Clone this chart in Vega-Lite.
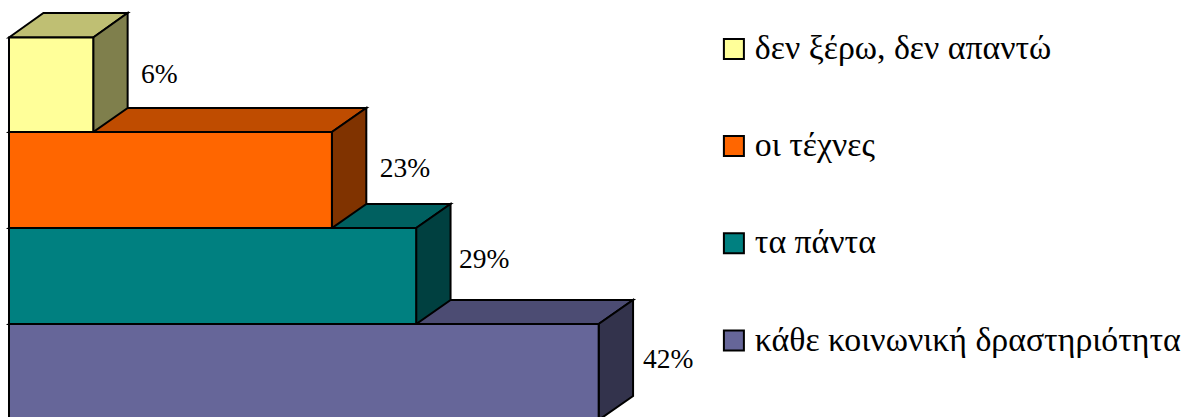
{
"$schema":"https://vega.github.io/schema/vega-lite/v6.json",
"width":1191,"height":417,"padding":0,"autosize":{"type":"none"},
"background":"white",
"config":{"view":{"stroke":null}},
"datasets":{
"faces":[
{"face":"p-top","x":0,"y":1,"y2":1},{"face":"p-top","x":2.45,"y":1.25,"y2":1},{"face":"p-top","x":42,"y":1.25,"y2":1},{"face":"p-top","x":44.45,"y":1.25,"y2":1.25},
{"face":"p-side","x":42,"y":1,"y2":0},{"face":"p-side","x":44.45,"y":1.25,"y2":0.25},
{"face":"t-top","x":0,"y":2,"y2":2},{"face":"t-top","x":2.45,"y":2.25,"y2":2},{"face":"t-top","x":29,"y":2.25,"y2":2},{"face":"t-top","x":31.45,"y":2.25,"y2":2.25},
{"face":"t-side","x":29,"y":2,"y2":1},{"face":"t-side","x":31.45,"y":2.25,"y2":1.25},
{"face":"o-top","x":0,"y":3,"y2":3},{"face":"o-top","x":2.45,"y":3.25,"y2":3},{"face":"o-top","x":23,"y":3.25,"y2":3},{"face":"o-top","x":25.45,"y":3.25,"y2":3.25},
{"face":"o-side","x":23,"y":3,"y2":2},{"face":"o-side","x":25.45,"y":3.25,"y2":2.25},
{"face":"y-top","x":0,"y":3.985,"y2":3.985},{"face":"y-top","x":2.45,"y":4.24,"y2":3.985},{"face":"y-top","x":6,"y":4.24,"y2":3.985},{"face":"y-top","x":8.45,"y":4.24,"y2":4.24},
{"face":"y-side","x":6,"y":3.985,"y2":3},{"face":"y-side","x":8.45,"y":4.24,"y2":3.25}
],
"bars":[
{"answer":"δεν ξέρω, δεν απαντώ","pct":6,"low":3,"high":3.985,"zero":0},
{"answer":"οι τέχνες","pct":23,"low":2,"high":3,"zero":0},
{"answer":"τα πάντα","pct":29,"low":1,"high":2,"zero":0},
{"answer":"κάθε κοινωνική δραστηριότητα","pct":42,"low":0,"high":1,"zero":0}
],
"labels":[
{"label":"6%","lx":9.4,"ly":3.59},
{"label":"23%","lx":26.4,"ly":2.615},
{"label":"29%","lx":32.05,"ly":1.667},
{"label":"42%","lx":45.15,"ly":0.625}
]},
"resolve":{"scale":{"color":"independent"}},
"layer":[
{"data":{"name":"faces"},
 "mark":{"type":"area","orient":"vertical","stroke":"#000","strokeWidth":2,"clip":true,"opacity":1,"fillOpacity":1},
 "encoding":{
  "x":{"field":"x","type":"quantitative","scale":{"domain":[-0.641,84.19],"nice":false,"zero":false},"axis":null},
  "y":{"field":"y","type":"quantitative","stack":null,"scale":{"domain":[0.03125,4.375],"nice":false,"zero":false},"axis":null},
  "y2":{"field":"y2"},
  "color":{"field":"face","type":"nominal","legend":null,"sort":null,"scale":{"domain":["p-top","p-side","t-top","t-side","o-top","o-side","y-top","y-side"],"range":["#4C4C73","#33334C","#006060","#004040","#BF4C00","#803300","#BFBF73","#7F7F4C"]}}
 }},
{"data":{"name":"bars"},
 "mark":{"type":"rect","stroke":"#000","strokeWidth":2,"clip":true},
 "encoding":{
  "x":{"field":"zero","type":"quantitative","axis":null},
  "x2":{"field":"pct"},
  "y":{"field":"low","type":"quantitative","axis":null},
  "y2":{"field":"high"},
  "color":{"field":"answer","type":"nominal","sort":null,
   "scale":{"domain":["δεν ξέρω, δεν απαντώ","οι τέχνες","τα πάντα","κάθε κοινωνική δραστηριότητα"],"range":["#FFFF99","#FF6600","#008080","#666699"]},
   "legend":{"title":null,"orient":"none","legendX":717,"legendY":32,"symbolType":"square","symbolSize":400,"symbolStrokeColor":"#000","symbolStrokeWidth":2,"symbolOpacity":1,"labelFont":"Liberation Serif","labelFontSize":33.8,"labelColor":"#000","labelOffset":4,"labelLimit":0,"rowPadding":62.2,"padding":0}}
 }},
{"data":{"name":"labels"},
 "mark":{"type":"text","align":"left","baseline":"middle","font":"Liberation Serif","fontSize":27.5,"color":"#000"},
 "encoding":{
  "x":{"field":"lx","type":"quantitative","axis":null},
  "y":{"field":"ly","type":"quantitative","axis":null},
  "text":{"field":"label"}
 }}
]}
